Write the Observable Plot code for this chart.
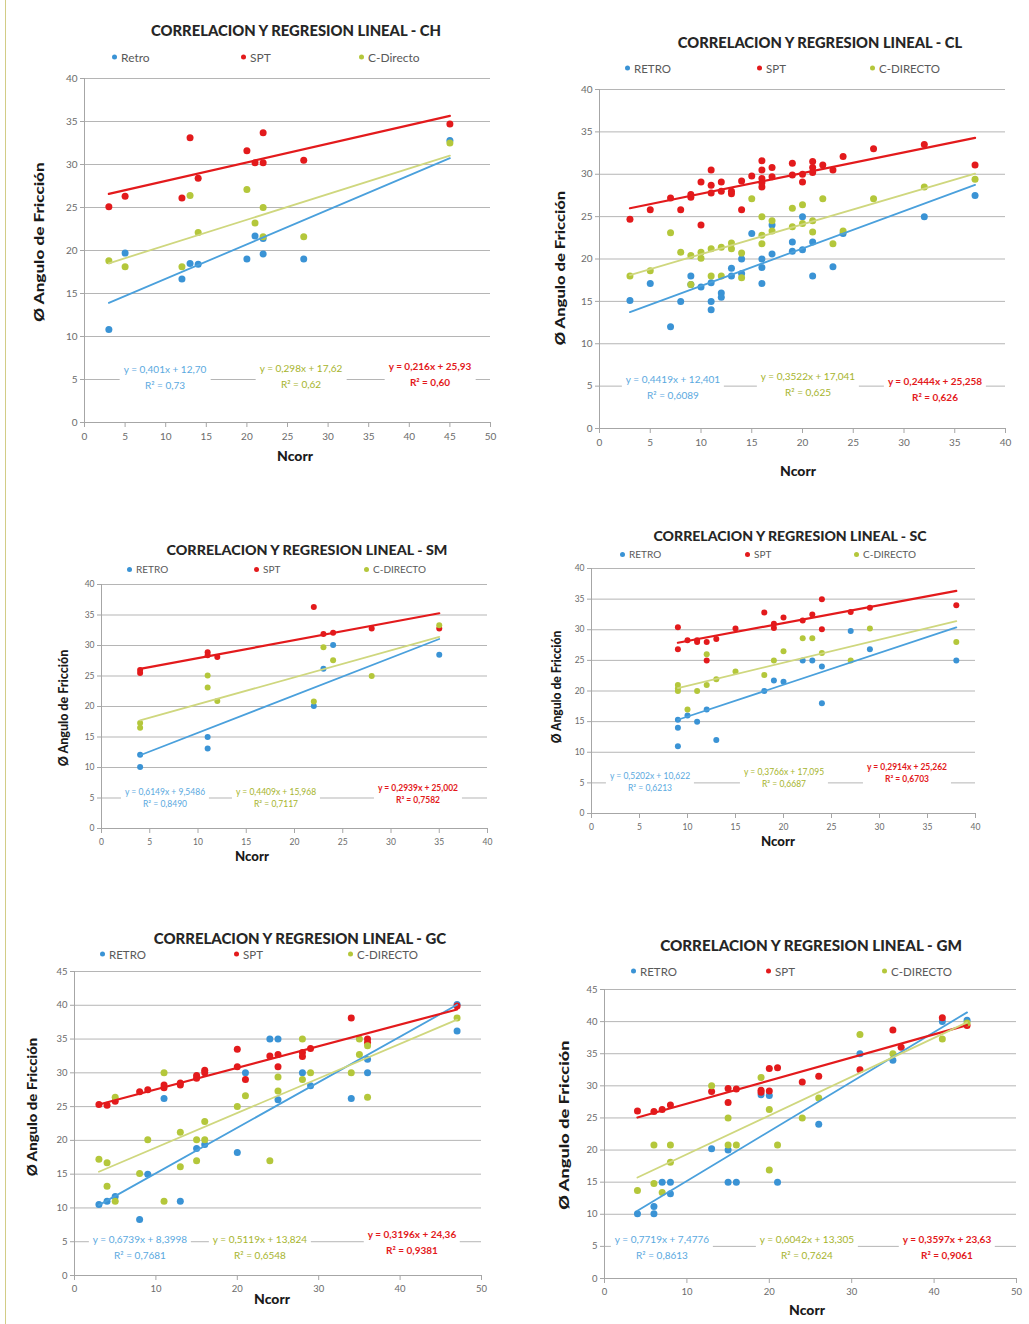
<!DOCTYPE html>
<html><head><meta charset="utf-8">
<script src="https://cdn.jsdelivr.net/npm/d3@7"></script>
<script src="https://cdn.jsdelivr.net/npm/@observablehq/plot@0.6"></script>
<style>
body{margin:0;background:#fff;font-family:Lato,"Open Sans",sans-serif;}
#page{position:relative;width:1029px;height:1324px;overflow:hidden;background:#fff;}
.abs{position:absolute;white-space:nowrap;}
.title{font-weight:900;color:#262626;}
.leg{color:#595959;display:flex;align-items:center;transform:translateY(-50%);}
.leg i{display:inline-block;width:5px;height:5px;border-radius:50%;margin-right:4px;}
.eq{font-size:10px;text-align:center;background:#fff;line-height:15px;padding:0 4px;transform:translate(-50%,-7px);}
.lab{font-weight:900;color:#1a1a1a;}
</style></head><body><div id="page"></div>
<script>
// ---------- shared ----------
const seriesNames = ["RETRO", "SPT", "C-DIRECTO"];
const seriesNamesCH = ["Retro", "SPT", "C-Directo"];
const pointColors = ["#3a93d5", "#e31a1c", "#b4c73b"];
const lineColors = ["#4aa0dc", "#e31a1c", "#cfd77e"];
const eqColors = ["#5aa9e0", "#e31a1c", "#a6b42c"];
const yLabel = "Ø Angulo de Fricción";
const xLabel = "Ncorr";

// ---------- CH ----------
const ch_retro = [[3,10.8],[5,19.7],[12,16.7],[13,18.5],[14,18.4],[20,19.0],[21,21.7],[22,19.6],[22,21.4],[27,19.0],[45,32.8]];
const ch_spt = [[3,25.1],[5,26.3],[12,26.1],[13,33.1],[14,28.4],[20,31.6],[21,30.2],[22,33.7],[22,30.2],[27,30.5],[45,34.7]];
const ch_cd = [[3,18.8],[5,18.1],[12,18.1],[13,26.4],[14,22.1],[20,27.1],[21,23.2],[22,25.0],[22,21.6],[27,21.6],[45,32.5]];
const ch_slope = [0.401, 0.216, 0.298];
const ch_icpt = [12.70, 25.93, 17.62];
const ch_eq = [["y = 0,401x + 12,70","R² = 0,73"],["y = 0,216x + 25,93","R² = 0,60"],["y = 0,298x + 17,62","R² = 0,62"]];

// ---------- CL ----------
const cl_retro = [[3,15.1],[5,17.1],[7,12.0],[8,15.0],[9,18.0],[9,17.0],[10,16.7],[11,17.2],[11,15.0],[11,14.0],[12,16.0],[12,15.5],[13,18.9],[13,18.0],[14,20.0],[14,18.3],[15,23.0],[16,20.0],[16,19.0],[16,17.1],[17,20.6],[17,24.0],[19,22.0],[19,20.9],[20,25.0],[20,21.1],[21,22.0],[21,18.0],[23,19.1],[24,23.0],[32,25.0],[37,27.5]];
const cl_spt = [[3,24.7],[5,25.8],[7,27.2],[8,25.8],[9,27.3],[9,27.6],[10,29.1],[10,24.0],[11,30.5],[11,28.7],[11,27.8],[12,29.1],[12,28.0],[13,27.7],[13,28.0],[14,25.8],[14,29.2],[15,29.8],[16,31.6],[16,30.5],[16,29.5],[16,28.5],[16,29.0],[17,30.8],[17,29.7],[19,31.3],[19,29.9],[20,30.0],[20,29.1],[21,31.5],[21,30.8],[21,30.2],[22,31.1],[23,30.5],[24,32.1],[27,33.0],[32,33.5],[37,31.1]];
const cl_cd = [[3,18.0],[5,18.6],[7,23.1],[8,20.8],[9,20.4],[9,17.0],[10,20.8],[10,20.1],[11,21.2],[11,18.0],[12,21.4],[12,18.0],[13,21.9],[13,21.2],[14,20.7],[14,17.8],[15,27.1],[16,25.0],[16,22.8],[16,21.8],[17,24.5],[17,23.3],[19,26.0],[19,23.8],[20,26.4],[20,24.2],[21,24.5],[21,23.2],[22,27.1],[23,21.8],[24,23.3],[27,27.1],[32,28.5],[37,29.4]];
const cl_slope = [0.4419, 0.2444, 0.3522];
const cl_icpt = [12.401, 25.258, 17.041];
const cl_eq = [["y = 0,4419x + 12,401","R² = 0,6089"],["y = 0,2444x + 25,258","R² = 0,626"],["y = 0,3522x + 17,041","R² = 0,625"]];

// ---------- SM ----------
const sm_retro = [[4,12.1],[4,10.1],[11,15.0],[11,13.1],[22,20.1],[23,26.2],[24,30.1],[35,28.5]];
const sm_spt = [[4,25.5],[4,26.0],[11,28.9],[11,28.4],[12,28.1],[22,36.3],[23,31.9],[24,32.1],[28,32.8],[35,32.8]];
const sm_cd = [[4,17.3],[4,16.5],[11,25.1],[11,23.1],[12,20.9],[22,20.8],[23,29.7],[24,27.6],[28,25.0],[35,33.3]];
const sm_slope = [0.6149, 0.2939, 0.4409];
const sm_icpt = [9.5486, 25.002, 15.968];
const sm_eq = [["y = 0,6149x + 9,5486","R² = 0,8490"],["y = 0,2939x + 25,002","R² = 0,7582"],["y = 0,4409x + 15,968","R² = 0,7117"]];

// ---------- SC ----------
const sc_retro = [[9,15.3],[9,14.0],[9,11.0],[10,16.0],[11,15.0],[12,17.0],[13,12.0],[18,20.0],[19,21.7],[20,21.5],[22,25.0],[23,25.0],[24,24.0],[24,18.0],[27,29.8],[29,26.8],[38,25.0]];
const sc_spt = [[9,30.4],[9,26.8],[10,28.3],[11,28.3],[11,28.0],[12,28.0],[12,25.0],[13,28.5],[15,30.2],[18,32.8],[19,31.0],[19,30.3],[20,32.0],[22,31.5],[23,32.5],[24,35.0],[24,30.1],[27,32.9],[29,33.6],[38,34.0]];
const sc_cd = [[9,21.0],[9,20.4],[9,20.0],[10,17.0],[11,20.0],[12,26.0],[12,21.0],[13,21.9],[15,23.2],[18,22.6],[19,25.0],[20,26.5],[22,28.6],[23,28.6],[24,26.2],[27,25.0],[29,30.2],[38,28.0]];
const sc_slope = [0.5202, 0.2914, 0.3766];
const sc_icpt = [10.622, 25.262, 17.095];
const sc_eq = [["y = 0,5202x + 10,622","R² = 0,6213"],["y = 0,2914x + 25,262","R² = 0,6703"],["y = 0,3766x + 17,095","R² = 0,6687"]];

// ---------- GC ----------
const gc_retro = [[3,10.5],[4,11.0],[5,11.7],[8,8.3],[9,15.0],[11,26.2],[13,11.0],[15,18.8],[16,19.4],[20,18.2],[21,30.0],[24,35.0],[25,35.0],[25,26.0],[28,30.0],[29,28.1],[34,26.2],[36,32.0],[36,30.0],[47,40.1],[47,36.2]];
const gc_spt = [[3,25.3],[4,25.2],[5,25.8],[8,27.2],[9,27.5],[11,27.8],[11,28.2],[13,28.2],[13,28.5],[15,29.2],[15,29.6],[16,30.4],[16,30.0],[20,33.5],[20,30.9],[21,29.0],[24,32.5],[25,32.7],[25,30.9],[28,33.0],[28,32.4],[29,33.6],[34,38.1],[36,35.0],[36,34.5],[47,39.9]];
const gc_cd = [[3,17.2],[4,16.7],[4,13.2],[5,26.4],[5,11.0],[8,15.1],[9,20.1],[11,30.0],[11,11.0],[13,21.2],[13,16.1],[15,20.1],[15,17.0],[16,22.8],[16,20.1],[20,25.0],[21,26.6],[24,17.0],[25,29.4],[25,27.3],[28,35.0],[28,29.0],[29,30.0],[34,30.0],[35,35.0],[35,32.7],[36,34.0],[36,26.4],[47,38.1]];
const gc_slope = [0.6739, 0.3196, 0.5119];
const gc_icpt = [8.3998, 24.36, 13.824];
const gc_eq = [["y = 0,6739x + 8,3998","R² = 0,7681"],["y = 0,3196x + 24,36","R² = 0,9381"],["y = 0,5119x + 13,824","R² = 0,6548"]];

// ---------- GM ----------
const gm_retro = [[4,10.1],[6,11.2],[6,10.1],[7,15.0],[8,15.0],[8,13.2],[13,20.2],[15,20.0],[15,15.0],[16,15.0],[19,28.6],[20,28.5],[21,15.0],[26,24.0],[31,35.0],[35,34.0],[41,40.0],[44,40.2]];
const gm_spt = [[4,26.1],[6,26.0],[7,26.3],[8,27.0],[13,29.1],[15,27.4],[15,29.6],[16,29.5],[19,29.3],[19,29.0],[20,32.7],[20,29.2],[21,32.8],[24,30.6],[26,31.5],[31,32.5],[35,38.7],[36,36.0],[41,40.6],[44,39.4]];
const gm_cd = [[4,13.7],[6,20.8],[6,14.8],[7,13.4],[8,20.8],[8,18.1],[13,30.0],[15,25.0],[15,20.8],[16,20.8],[19,31.3],[20,26.3],[20,16.9],[21,20.8],[24,25.0],[26,28.1],[31,38.0],[35,35.0],[41,37.3],[44,39.8]];
const gm_slope = [0.7719, 0.3597, 0.6042];
const gm_icpt = [7.4776, 23.63, 13.305];
const gm_eq = [["y = 0,7719x + 7,4776","R² = 0,8613"],["y = 0,3597x + 23,63","R² = 0,9061"],["y = 0,6042x + 13,305","R² = 0,7624"]];

// ---------- layout ----------
const panels = [
 {title:"CORRELACION Y REGRESION LINEAL - CH", names:seriesNamesCH, data:[ch_retro,ch_spt,ch_cd], slope:ch_slope, icpt:ch_icpt, eq:ch_eq,
  xMax:50, xStep:5, yMax:40, box:[84,490,78,422], titleC:[296,30], titleW:290, titleFs:15, legY:57, legX:[115,244,362], legFs:12,
  ncorr:[295,455], ncorrW:36, ylab:[38,242], ylabW:160, eqPos:[[165,368],[430,365],[301,367]], tickFs:10},
 {title:"CORRELACION Y REGRESION LINEAL - CL", names:seriesNames, data:[cl_retro,cl_spt,cl_cd], slope:cl_slope, icpt:cl_icpt, eq:cl_eq,
  xMax:40, xStep:5, yMax:40, box:[599,1005,89,428], titleC:[820,42], titleW:284, titleFs:15, legY:68, legX:[628,760,873], legFs:11.5,
  ncorr:[798,470], ncorrW:36, ylab:[559,268], ylabW:155, eqPos:[[673,378],[935,380],[808,375]], tickFs:10},
 {title:"CORRELACION Y REGRESION LINEAL - SM", names:seriesNames, data:[sm_retro,sm_spt,sm_cd], slope:sm_slope, icpt:sm_icpt, eq:sm_eq,
  xMax:40, xStep:5, yMax:40, box:[101,487,584,828], titleC:[307,550], titleW:281, titleFs:13, legY:569, legX:[130,257,367], legFs:10,
  ncorr:[252,855], ncorrW:34, ylab:[62,708], ylabW:117, eqPos:[[165,793],[418,789],[276,793]], tickFs:8.5},
 {title:"CORRELACION Y REGRESION LINEAL - SC", names:seriesNames, data:[sc_retro,sc_spt,sc_cd], slope:sc_slope, icpt:sc_icpt, eq:sc_eq,
  xMax:40, xStep:5, yMax:40, box:[591,975,568,813], titleC:[790,536], titleW:273, titleFs:13, legY:554, legX:[623,748,857], legFs:10,
  ncorr:[778,840], ncorrW:34, ylab:[555,687], ylabW:113, eqPos:[[650,777],[907,768],[784,773]], tickFs:8.5},
 {title:"CORRELACION Y REGRESION LINEAL - GC", names:seriesNames, data:[gc_retro,gc_spt,gc_cd], slope:gc_slope, icpt:gc_icpt, eq:gc_eq,
  xMax:50, xStep:10, yMax:45, box:[74,481,971,1275], titleC:[300,938], titleW:292, titleFs:15, legY:954, legX:[103,237,351], legFs:11.5,
  ncorr:[272,1298], ncorrW:36, ylab:[31,1107], ylabW:139, eqPos:[[140,1238],[412,1233],[260,1238]], tickFs:9.5},
 {title:"CORRELACION Y REGRESION LINEAL - GM", names:seriesNames, data:[gm_retro,gm_spt,gm_cd], slope:gm_slope, icpt:gm_icpt, eq:gm_eq,
  xMax:50, xStep:10, yMax:45, box:[604,1016,989,1278], titleC:[811,945], titleW:302, titleFs:15, legY:971, legX:[634,769,885], legFs:11.5,
  ncorr:[807,1309], ncorrW:36, ylab:[563,1125], ylabW:170, eqPos:[[662,1238],[947,1238],[807,1238]], tickFs:9.5}
];

const page = document.getElementById("page");
function addDiv(cls, html, css){ const d=document.createElement("div"); d.className="abs "+cls; d.innerHTML=html; Object.assign(d.style, css); page.appendChild(d); return d; }
function fitCentered(el, cx, cy, target, rotate){
  el.style.left = cx+"px"; el.style.top = cy+"px";
  const w = el.offsetWidth; const k = target / w;
  el.style.transform = `translate(-50%,-50%)${rotate?" rotate(-90deg)":""} scaleX(${k})`;
}

// left border line
addDiv("", "", {left:"5px", top:"0px", width:"1px", height:"1324px", background:"#d2cc86"});

panels.forEach(p => {
  const [x0,x1,yT,y0] = p.box;
  const mL=40, mR=12, mT=8, mB=30;
  const xt = d3.range(0, p.xMax + 0.001, p.xStep);
  const yt = d3.range(0, p.yMax + 0.001, 5);
  const marks = [
    Plot.gridY(yt, {stroke:"#b5b5b5", strokeOpacity:1, strokeWidth:1}),
    Plot.ruleX([0], {stroke:"#a6a6a6"}),
    Plot.ruleY([0], {stroke:"#a6a6a6"}),
    Plot.axisY(yt, {tickSize:4, tickPadding:3, stroke:"#a6a6a6", fill:"#6b6b6b", label:null, fontSize:p.tickFs}),
    Plot.axisX(xt, {tickSize:5, tickPadding:5, stroke:"#a6a6a6", fill:"#6b6b6b", label:null, fontSize:p.tickFs})
  ];
  const rr = p.tickFs < 9 ? 3.0 : 3.5;
  p.data.forEach((arr, i) => {
    marks.push(Plot.dot(arr, {x:d=>d[0], y:d=>d[1], fill:pointColors[i], r:rr}));
  });
  p.data.forEach((arr, i) => {
    const ext = d3.extent(arr, d => d[0]);
    const seg = ext.map(x => ({x, y: p.slope[i]*x + p.icpt[i]}));
    marks.push(Plot.line(seg, {x:"x", y:"y", stroke:lineColors[i], strokeWidth: i===1 ? 2.2 : 1.8}));
  });
  const svg = Plot.plot({
    width: x1-x0+mL+mR, height: y0-yT+mT+mB,
    marginLeft:mL, marginRight:mR, marginTop:mT, marginBottom:mB,
    style:{fontFamily:"Lato, sans-serif", fontSize:p.tickFs+"px", background:"transparent", overflow:"visible"},
    x:{domain:[0,p.xMax], label:null},
    y:{domain:[0,p.yMax], label:null},
    marks
  });
  svg.style.position = "absolute";
  svg.style.left = (x0-mL)+"px";
  svg.style.top = (yT-mT)+"px";
  page.appendChild(svg);

  // title
  const t = addDiv("title", p.title, {fontSize:p.titleFs+"px"});
  fitCentered(t, p.titleC[0], p.titleC[1], p.titleW, false);
  // legend
  p.names.forEach((n, i) => {
    addDiv("leg", `<i style="background:${pointColors[i]}"></i>${n}`, {left:(p.legX[i]-3)+"px", top:p.legY+"px", fontSize:p.legFs+"px"});
  });
  // axis labels
  const nx = addDiv("lab", xLabel, {fontSize:"14px"});
  fitCentered(nx, p.ncorr[0], p.ncorr[1], p.ncorrW, false);
  const ny = addDiv("lab", yLabel, {fontSize:"14px"});
  fitCentered(ny, p.ylab[0], p.ylab[1], p.ylabW, true);
  // equations
  p.eq.forEach((lines, i) => {
    addDiv("eq", lines.join("<br>"), {left:p.eqPos[i][0]+"px", top:p.eqPos[i][1]+"px", color:eqColors[i],
      fontWeight: i===1 ? "bold" : "normal",
      fontSize:(p.tickFs<9?8.5:10)+"px", lineHeight:(p.tickFs<9?"12px":"16px")});
  });
});
</script></body></html>
